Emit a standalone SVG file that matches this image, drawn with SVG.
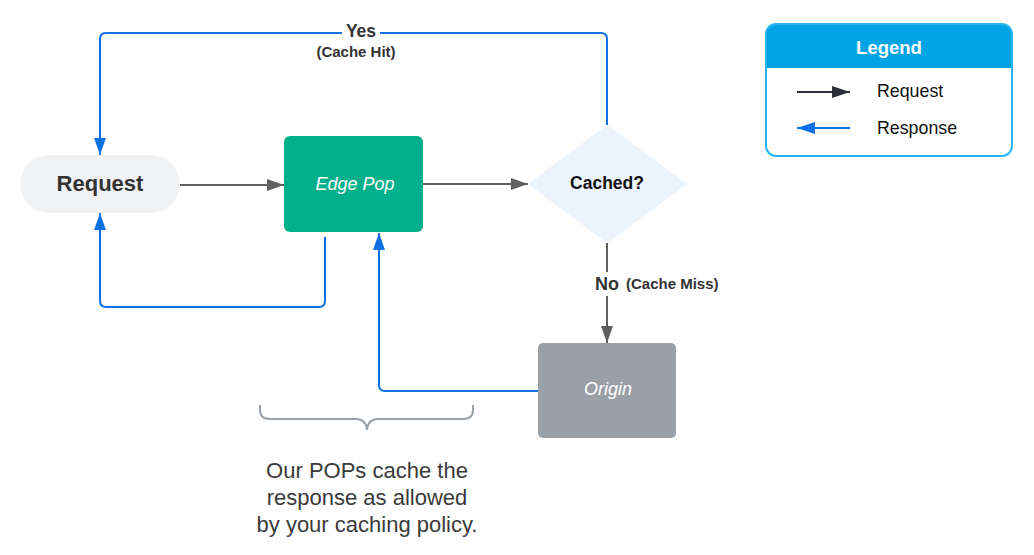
<svg xmlns="http://www.w3.org/2000/svg" width="1034" height="555" viewBox="0 0 1034 555">
<defs>
<marker id="ag" viewBox="0 0 17 12" refX="17" refY="6" markerWidth="17" markerHeight="12" markerUnits="userSpaceOnUse" orient="auto"><path d="M0,0 L17,6 L0,12 Z" fill="#5f5f5f"/></marker>
<marker id="ab" viewBox="0 0 17 12" refX="17" refY="6" markerWidth="17" markerHeight="12" markerUnits="userSpaceOnUse" orient="auto"><path d="M0,0 L17,6 L0,12 Z" fill="#1071e5"/></marker>
<marker id="ad" viewBox="0 0 18 12" refX="18" refY="6" markerWidth="18" markerHeight="12" markerUnits="userSpaceOnUse" orient="auto"><path d="M0,0 L18,6 L0,12 Z" fill="#2d3038"/></marker>
<marker id="al" viewBox="0 0 18 12" refX="18" refY="6" markerWidth="18" markerHeight="12" markerUnits="userSpaceOnUse" orient="auto"><path d="M0,0 L18,6 L0,12 Z" fill="#1071e5"/></marker>
</defs>
<style>
text{font-family:"Liberation Sans",Arial,sans-serif}
.g{fill:none;stroke:#5f5f5f;stroke-width:2}
.b{fill:none;stroke:#1071e5;stroke-width:2}
.lbl{font-weight:bold;fill:#333;text-anchor:middle}
</style>
<rect width="1034" height="555" fill="#fff"/>
<g id="connectors">
<path class="g" d="M180,185 H284" marker-end="url(#ag)"/>
<path class="g" d="M423,184 H528" marker-end="url(#ag)"/>
<path class="b" d="M607,125 V39 Q607,33 601,33 H106 Q100,33 100,39 V155" marker-end="url(#ab)"/>
<path class="b" d="M325,237 V301 Q325,307 319,307 H106 Q100,307 100,301 V213" marker-end="url(#ab)"/>
<path class="b" d="M538,391 H385 Q379,391 379,385 V233" marker-end="url(#ab)"/>
<path class="g" d="M607,243 V343" marker-end="url(#ag)"/>
<rect x="342" y="21" width="38" height="18" fill="#fff"/>
<text class="lbl" x="361" y="37" font-size="17.5">Yes</text>
<text class="lbl" x="356" y="57" font-size="15">(Cache Hit)</text>
<rect x="592" y="272" width="30" height="24" fill="#fff"/>
<text class="lbl" x="607" y="290" font-size="18">No</text>
<text x="626" y="289" font-size="15" font-weight="bold" fill="#333">(Cache Miss)</text>
</g>
<g id="request">
<rect x="20" y="155" width="160" height="58" rx="29" fill="#f1f2f4"/>
<text x="100" y="191" font-size="22" font-weight="bold" fill="#333" text-anchor="middle">Request</text>
</g>
<g id="edgepop">
<rect x="284" y="136" width="139" height="96" rx="6" fill="#02b18c"/>
<text x="355" y="190" font-size="18" font-style="italic" fill="#fff" text-anchor="middle">Edge Pop</text>
</g>
<g id="cached">
<path d="M607,125 L687,184 L607,243 L528,184 Z" fill="#ebf3fd"/>
<text x="607" y="189" font-size="17.5" font-weight="bold" fill="#111" text-anchor="middle">Cached?</text>
</g>
<g id="origin">
<rect x="538" y="343" width="138" height="95" rx="5" fill="#9aa0a8"/>
<text x="608" y="395" font-size="18" font-style="italic" fill="#fff" text-anchor="middle">Origin</text>
</g>
<g id="note">
<path d="M260,405 V410 Q260,419 270,419 H356 Q366,419 367,430 Q368,419 378,419 H463 Q473,419 473,410 V405" fill="none" stroke="#9aa0a8" stroke-width="2"/>
<text font-size="22" fill="#3a3a3a" text-anchor="middle"><tspan x="367" y="478">Our POPs cache the</tspan><tspan x="367" y="505">response as allowed</tspan><tspan x="367" y="532">by your caching policy.</tspan></text>
</g>
<g id="legend">
<path d="M766,68 V34 Q766,24 776,24 H1002 Q1012,24 1012,34 V68 Z" fill="#00a4e4"/>
<rect x="766" y="24" width="246" height="132" rx="10" fill="none" stroke="#29b6f0" stroke-width="2"/>
<text x="889" y="54" font-size="18.5" font-weight="bold" fill="#fff" text-anchor="middle">Legend</text>
<path d="M797,92 H850" fill="none" stroke="#2d3038" stroke-width="2" marker-end="url(#ad)"/>
<text x="877" y="97" font-size="17.8" fill="#111">Request</text>
<path d="M850,128 H797" fill="none" stroke="#1071e5" stroke-width="2" marker-end="url(#al)"/>
<text x="877" y="134" font-size="17.8" fill="#111">Response</text>
</g>
</svg>
